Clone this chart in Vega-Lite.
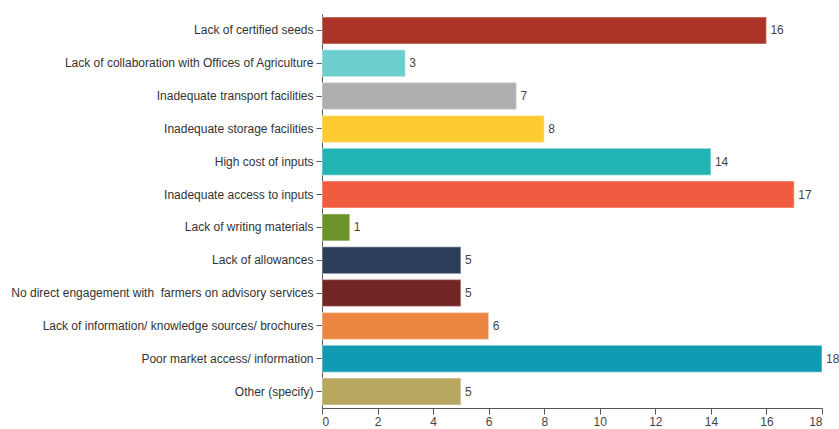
{
  "$schema": "https://vega.github.io/schema/vega-lite/v6.json",
  "width": 500,
  "height": 394,
  "autosize": {"type": "none"},
  "padding": {"left": 322, "top": 14, "right": 17, "bottom": 21},
  "background": "white",
  "config": {"view": {"stroke": null}, "font": "Liberation Sans"},
  "data": {"values": [
    {"cat": "Lack of certified seeds", "v": 16, "c": "#A93427"},
    {"cat": "Lack of collaboration with Offices of Agriculture", "v": 3, "c": "#6CCFCE"},
    {"cat": "Inadequate transport facilities", "v": 7, "c": "#AEAEAE"},
    {"cat": "Inadequate storage facilities", "v": 8, "c": "#FFCB30"},
    {"cat": "High cost of inputs", "v": 14, "c": "#22B3B3"},
    {"cat": "Inadequate access to inputs", "v": 17, "c": "#F15B40"},
    {"cat": "Lack of writing materials", "v": 1, "c": "#6B922B"},
    {"cat": "Lack of allowances", "v": 5, "c": "#2C3E5A"},
    {"cat": "No direct engagement with\u00a0 farmers on advisory services", "v": 5, "c": "#722525"},
    {"cat": "Lack of information/ knowledge sources/ brochures", "v": 6, "c": "#EC8541"},
    {"cat": "Poor market access/ information", "v": 18, "c": "#119BB3"},
    {"cat": "Other (specify)", "v": 5, "c": "#B8A85F"}
  ]},
  "encoding": {
    "y": {"field": "cat", "type": "nominal", "sort": null,
      "scale": {"paddingInner": 0.18, "paddingOuter": 0.09},
      "axis": {"title": null, "labelFontSize": 12, "labelColor": "#333", "labelPadding": 3, "tickSize": 6, "tickColor": "#555", "domainColor": "#555", "labelLimit": 400}},
    "x": {"field": "v", "type": "quantitative",
      "scale": {"domain": [0, 18], "nice": false},
      "axis": {"title": null, "values": [0,2,4,6,8,10,12,14,16,18], "grid": false, "labelFontSize": 12, "labelColor": "#444", "tickSize": 6, "tickColor": "#555", "domainColor": "#555", "labelPadding": 2}}
  },
  "layer": [
    {"mark": {"type": "bar", "strokeWidth": 1.5, "strokeOpacity": 0.35},
     "encoding": {"color": {"field": "c", "type": "nominal", "scale": null}, "stroke": {"value": "#ffffff"}}},
    {"mark": {"type": "text", "align": "left", "dx": 4, "fontSize": 12, "color": "#444"},
     "encoding": {"text": {"field": "v", "type": "quantitative"}}}
  ]
}
